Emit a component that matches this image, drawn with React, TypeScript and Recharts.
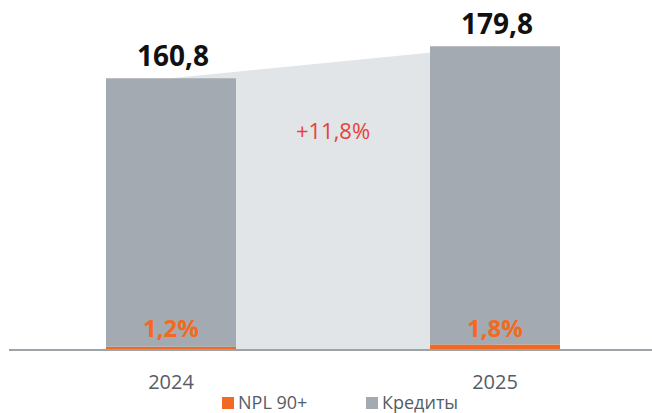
import React from 'react';
import { ComposedChart, Bar, Area, XAxis, YAxis, LabelList } from 'recharts';

const years = ['2024', '2025'];
const credits = [160.8, 179.8]; // Кредиты
const nplShare = [1.2, 1.8]; // NPL 90+, % of credits
const growthLabel = '+11,8%';

const W = 652;
const H = 413;
const MARGIN = { top: 12, right: -5, left: 9, bottom: 0 };
const BAND = (W - MARGIN.left - MARGIN.right) / years.length;

const GRAY = '#a4aab2';
const LIGHT = '#e1e5e8';
const ORANGE = '#f26a21';
const RED = '#e8413a';
const FONT = '"Open Sans", sans-serif';

const fmt = (v: number) => v.toFixed(1).replace('.', ',');

const data = years.map((year, i) => {
  const npl = (credits[i] * nplShare[i]) / 100;
  return { year, credits: credits[i], npl, rest: credits[i] - npl, share: nplShare[i] };
});

const TotalLabel = (props: any) => {
  const { x, y, width, index } = props;
  return (
    <text x={x + width / 2 + 2} y={y - 12} textAnchor="middle" fontFamily={FONT} fontWeight={700} fontSize={28} fill="#111">
      {fmt(credits[index])}
    </text>
  );
};

const ShareLabel = (props: any) => {
  const { x, y, width, height, index } = props;
  return (
    <text x={x + width / 2} y={y + height - 13} textAnchor="middle" fontFamily={FONT} fontWeight={700} fontSize={24} fill={ORANGE}>
      {fmt(nplShare[index]) + '%'}
    </text>
  );
};

const GrowthLabel = (props: any) => {
  const { x, index } = props;
  if (index !== 0) return null;
  return (
    <text x={x + BAND / 2} y={139} textAnchor="middle" fontFamily={FONT} fontSize={22} fill={RED}>
      {growthLabel}
    </text>
  );
};

const YearTick = (props: any) => {
  const { x, y, payload } = props;
  return (
    <text x={x} y={y + 37} textAnchor="middle" fontFamily={FONT} fontSize={20} fill="#555d66">
      {payload.value}
    </text>
  );
};

const legendItems = [
  { name: 'NPL 90+', color: ORANGE, left: 222 },
  { name: 'Кредиты', color: GRAY, left: 366 },
];

export default function App() {
  return (
    <div style={{ position: 'absolute', left: 0, top: 0, width: W, height: H, background: '#fff', overflow: 'hidden' }}>
      <ComposedChart width={W} height={H} data={data} margin={MARGIN} barCategoryGap={0}>
        <YAxis hide domain={[0, 200]} />
        <XAxis
          dataKey="year"
          height={63}
          tickLine={false}
          tickSize={0}
          tick={<YearTick />}
          axisLine={{ stroke: '#9ea3a8', strokeWidth: 2 }}
        />
        <Area dataKey="credits" type="linear" fill={LIGHT} fillOpacity={1} stroke="none" isAnimationActive={false}>
          <LabelList content={<GrowthLabel />} />
        </Area>
        <Bar dataKey="npl" stackId="a" fill={ORANGE} barSize={130} isAnimationActive={false}>
          <LabelList content={<ShareLabel />} />
        </Bar>
        <Bar dataKey="rest" stackId="a" fill={GRAY} barSize={130} isAnimationActive={false}>
          <LabelList content={<TotalLabel />} />
        </Bar>
      </ComposedChart>
      {legendItems.map((it) => (
        <div
          key={it.name}
          style={{ position: 'absolute', left: it.left, top: 393, height: 19, lineHeight: '19px', display: 'flex', alignItems: 'center', fontFamily: FONT, fontSize: 18, color: '#555d66' }}
        >
          <span style={{ width: 12, height: 12, background: it.color, marginRight: 4, display: 'inline-block' }} />
          {it.name}
        </div>
      ))}
    </div>
  );
}
